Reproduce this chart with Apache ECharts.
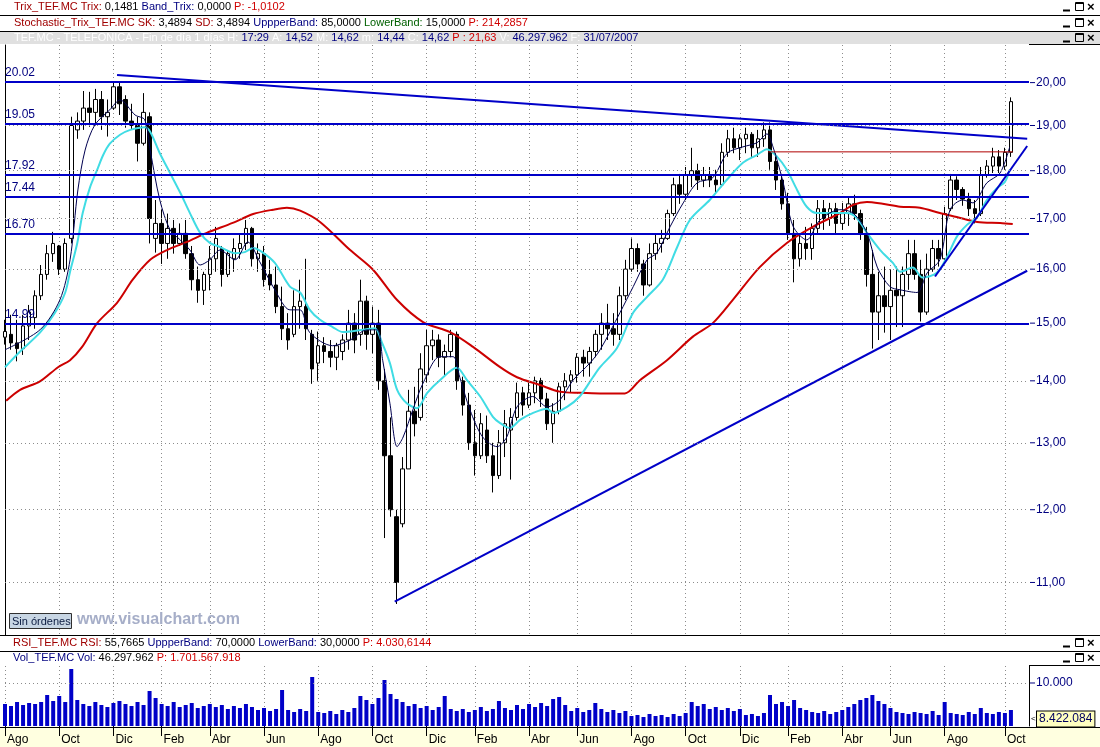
<!DOCTYPE html>
<html>
<head>
<meta charset="utf-8">
<script src="https://cdn.jsdelivr.net/npm/echarts@6/dist/echarts.min.js"></script>
<style>
html,body{margin:0;padding:0;background:#fff;}
#c{width:1100px;height:747px;}
</style>
</head>
<body>
<div id="c"></div>
<script>
// ---------- DATA (weekly candles) ----------
const openP = [
14.75,14.8,14.65,14.55,14.95,15.1,15.5,15.9,16.3,16.45,
16.0,16.6,18.9,19.1,19.4,19.3,19.6,19.2,19.4,19.9,
19.6,19.1,19.0,18.6,19.2,16.6,16.9,16.5,16.8,16.5,
16.7,16.3,15.8,15.6,15.9,16.2,16.4,15.9,16.2,16.4,
16.5,16.8,16.2,16.3,15.9,15.7,15.3,14.9,14.8,15.3,
15.3,14.8,14.3,14.6,14.5,14.4,14.5,14.7,15.0,14.8,
15.4,14.8,15.0,14.0,12.8,11.9,11.8,12.6,13.5,13.4,
14.1,14.6,14.7,14.4,14.5,14.8,14.0,13.6,13.0,12.8,
13.2,12.8,12.5,13.0,13.2,13.4,13.8,13.6,13.8,14.0,
13.7,13.3,13.5,13.9,14.0,14.1,14.4,14.3,14.5,14.8,
15.0,14.9,14.8,15.5,16.0,16.4,16.1,15.7,16.3,16.5,
16.6,17.1,17.7,17.5,17.9,18.0,17.8,17.9,17.8,17.7,
18.4,18.7,18.5,18.7,18.8,18.5,18.7,18.9,18.2,17.8,
17.3,16.7,16.2,16.5,16.4,16.8,17.2,17.0,17.2,16.9,
17.1,17.3,17.1,16.7,15.9,15.2,15.5,15.3,15.6,15.5,
15.9,16.3,15.9,15.2,16.0,16.4,16.2,17.2,17.8,17.6,
17.4,17.2,17.1,17.9,18.1,18.3,18.1,18.4];
const closeP = [
14.85,14.65,14.55,14.95,15.2,15.5,15.9,16.3,16.5,16.0,
16.5,19.0,19.1,19.4,19.3,19.6,19.2,19.3,19.9,19.5,
19.1,19.0,18.6,19.3,17.0,16.9,16.5,16.8,16.5,16.7,
16.3,15.8,15.6,15.9,16.2,16.6,15.9,16.3,16.4,16.5,
16.8,16.2,16.3,15.8,15.7,15.3,14.9,14.7,15.3,15.4,
14.9,14.2,14.6,14.5,14.4,14.6,14.7,15.0,14.7,15.4,
14.8,15.0,14.0,12.8,12.0,11.0,12.6,13.5,13.3,14.2,
14.6,14.7,14.4,14.5,14.8,14.0,13.6,13.0,12.8,13.3,
12.8,12.5,13.0,13.3,13.4,13.8,13.6,13.8,14.0,13.7,
13.3,13.5,13.9,14.0,14.1,14.4,14.3,14.5,14.8,15.0,
14.9,14.8,15.5,16.0,16.4,16.1,15.7,16.3,16.5,16.6,
17.1,17.7,17.5,17.9,18.0,17.8,17.9,17.8,17.7,18.4,
18.7,18.5,18.7,18.8,18.5,18.7,18.9,18.2,17.8,17.3,
16.7,16.2,16.5,16.4,16.8,17.2,17.0,17.2,16.9,17.1,
17.3,17.1,16.7,15.9,15.2,15.5,15.3,15.6,15.5,15.9,
16.3,15.9,15.2,16.0,16.4,16.2,17.1,17.8,17.6,17.4,
17.2,17.1,17.9,18.1,18.3,18.1,18.4,19.55];
const lowP = [
14.62,14.53,14.33,14.44,14.7,14.9,15.42,15.8,16.14,15.89,
15.95,16.5,18.7,18.9,18.97,19.0,18.9,18.75,19.36,19.24,
18.95,18.9,18.2,18.55,16.5,16.32,16.1,16.2,16.3,16.45,
16.2,15.6,15.37,15.33,15.6,15.95,15.67,15.85,15.95,16.2,
16.37,16.05,15.95,15.67,15.6,15.18,14.7,14.53,14.75,14.9,
14.7,13.95,14.0,14.3,14.23,14.18,14.35,14.53,14.47,14.6,
14.53,14.47,13.85,11.6,11.9,10.72,11.75,12.6,13.1,13.35,
13.97,14.35,14.23,14.07,14.4,13.85,13.43,12.89,12.5,12.75,
12.69,12.25,12.45,12.78,12.44,13.35,13.43,13.55,13.63,13.57,
13.2,13.0,13.45,13.68,13.8,13.97,14.07,14.07,14.4,14.53,
14.7,14.6,14.7,15.42,15.95,15.95,15.5,15.67,16.18,16.32,
16.57,17.05,17.3,17.38,17.65,17.59,17.65,17.65,17.53,17.65,
18.3,18.38,18.23,18.38,18.3,18.3,18.52,18.02,17.59,17.18,
16.57,15.75,16.05,16.18,16.18,16.7,16.77,16.85,16.7,16.77,
16.85,16.97,16.57,15.67,14.55,14.7,14.83,14.7,14.93,14.93,
15.61,15.8,15.03,15.15,15.95,16.05,16.12,17.15,17.38,17.26,
17.05,16.9,17.05,17.85,17.95,17.95,18.02,18.3];
const highP = [
15.06,15.15,15.06,15.15,15.33,15.6,16.08,16.47,16.73,16.47,
16.6,19.2,19.3,19.8,19.78,19.85,19.8,19.6,20.0,20.02,
19.7,19.5,19.2,19.75,19.3,17.38,17.18,17.1,16.97,16.9,
16.97,16.45,16.05,15.95,16.45,16.83,16.45,16.37,16.6,16.7,
16.97,16.83,16.5,16.45,16.18,16.05,15.67,15.18,15.6,15.8,
16.2,14.88,14.85,14.75,14.7,14.65,14.8,15.24,15.18,15.8,
15.5,15.3,15.24,14.2,13.4,12.0,12.78,13.85,13.9,14.47,
14.88,14.88,14.8,14.62,14.88,14.85,14.07,13.8,13.52,13.47,
13.43,13.0,13.2,13.52,13.55,13.97,13.9,13.97,14.07,14.05,
13.8,13.63,13.97,14.13,14.18,14.47,14.53,14.58,14.88,15.18,
15.35,15.18,15.67,16.18,16.6,16.5,16.18,16.5,16.7,16.77,
17.18,17.85,17.93,18.08,18.5,18.15,18.08,18.08,18.02,18.6,
18.9,18.95,18.8,18.95,18.85,18.9,19.07,19.07,18.38,17.93,
17.53,16.97,16.7,16.83,16.9,17.38,17.38,17.32,17.32,17.32,
17.44,17.49,17.18,16.83,16.37,15.95,16.05,15.99,16.05,16.05,
16.57,16.57,16.18,16.3,16.57,16.57,17.24,17.93,17.88,17.65,
17.53,17.38,18.08,18.23,18.5,18.45,18.5,19.65];
// weekly volume (thousands)
const volume = [
5120,4650,5580,4880,5350,5120,5580,7210,5810,6980,
5580,13250,6050,5120,4650,5580,4880,4420,5350,5810,
5120,4650,5580,4880,8140,6510,5120,4650,5580,4420,
4880,5350,4190,4650,5120,4420,4880,3950,4650,4190,
5120,4420,3720,4190,3490,3950,8370,3720,3260,3950,
3490,11390,3260,3020,3490,2790,3720,3260,4190,6980,
6050,5120,6510,10700,7440,6280,5580,4650,5120,4190,
4650,3720,4420,6980,3950,3490,3950,3260,3720,4420,
3490,3950,5810,4190,3720,4880,3950,5120,4420,5350,
4650,6280,6740,4880,3490,4190,3260,3720,5350,3950,
3260,3720,3020,3490,2330,2560,2090,2790,2330,2560,
2090,2790,2330,3020,5580,4650,5120,3950,4420,3720,
4190,3490,3950,2560,2790,2330,3020,7210,5120,5580,
4650,6050,4190,3720,3260,3020,3490,2790,3260,3720,
4420,5120,6050,6510,7210,5810,5120,4190,3260,3020,
2790,3260,3020,2790,3490,2560,5580,3020,2790,2560,
3260,2790,4190,3020,2790,3260,3020,3720];
// moving averages [week, price]
const maSlow = [[0.2,13.67],[2.5,13.85],[5.8,13.99],[8.8,14.23],[10.8,14.35],[12.8,14.58],[15.3,15.0],[18.6,15.37],[21.2,15.8],[24.1,16.18],[26.9,16.37],[30.2,16.53],[33.5,16.71],[37.8,16.91],[41.2,17.09],[44.5,17.18],[46.8,17.22],[49.0,17.16],[52.3,16.93],[57.3,16.37],[61.1,15.99],[65.1,15.42],[69.4,15.02],[73.9,14.84],[77.7,14.58],[82.2,14.23],[85.0,14.06],[88.8,13.93],[92.1,13.82],[95.5,13.8],[98.8,13.79],[102.9,13.79],[105.4,14.01],[109.9,14.35],[114.2,14.76],[117.5,15.0],[120.8,15.42],[125.3,16.04],[129.8,16.51],[134.1,16.83],[138.6,17.11],[140.8,17.28],[143.1,17.34],[145.7,17.3],[148.6,17.24],[151.9,17.22],[155.2,17.11],[158.0,17.03],[161.4,16.93],[165.2,16.91],[167.3,16.89]];
const maMid = [[0,14.23],[2.5,14.5],[5.8,14.83],[8.3,15.19],[10.0,15.56],[10.8,15.95],[12.0,16.51],[12.9,17.11],[14.1,17.64],[15.3,18.02],[16.3,18.34],[17.4,18.59],[19.1,18.79],[20.8,18.9],[23.2,18.96],[24.1,18.86],[25.7,18.38],[27.4,17.95],[29.1,17.53],[30.7,17.11],[32.4,16.71],[34.0,16.51],[35.7,16.43],[38.2,16.31],[39.8,16.33],[41.2,16.41],[42.7,16.33],[44.8,16.12],[47.3,15.67],[49.0,15.56],[50.6,15.24],[52.3,15.06],[54.4,14.93],[56.1,14.84],[59.4,14.88],[61.4,14.91],[62.6,14.65],[63.9,14.3],[65.1,13.85],[66.7,13.63],[68.4,13.55],[70.1,13.8],[72.2,14.01],[75.0,14.22],[76.7,14.01],[78.9,13.74],[81.0,13.41],[82.2,13.31],[83.8,13.23],[85.5,13.36],[87.6,13.47],[90.0,13.54],[91.0,13.47],[93.3,13.57],[95.4,13.74],[97.6,14.06],[98.8,14.23],[101.6,14.56],[104.3,15.19],[106.6,15.48],[109.2,15.8],[111.6,16.43],[113.7,16.97],[117.0,17.38],[119.8,17.8],[122.5,18.17],[124.8,18.34],[126.5,18.47],[128.2,18.3],[129.8,18.02],[131.5,17.59],[133.1,17.24],[134.8,17.11],[137.5,17.11],[139.8,17.11],[141.4,17.01],[143.1,16.71],[145.3,16.37],[147.4,16.12],[148.6,15.95],[150.7,16.03],[152.3,15.84],[154.7,15.93],[156.4,16.24],[158.0,16.63],[159.7,16.87],[161.4,17.03],[163.0,17.38],[164.7,17.63],[166.0,17.76],[166.8,18.02]];
const maFast = [[0,14.53],[5.8,14.88],[9.1,15.42],[10.8,16.18],[12.1,17.59],[13.3,18.45],[14.9,19.01],[17.4,19.36],[19.1,19.59],[21.6,19.24],[23.2,19.13],[24.1,18.45],[25.7,17.38],[27.4,16.77],[29.1,16.57],[30.7,16.37],[32.4,16.08],[34.0,16.18],[35.7,16.37],[38.2,16.18],[40.3,16.53],[42.3,16.14],[44.8,15.61],[47.3,15.24],[49.0,15.24],[50.6,14.83],[54.4,14.6],[57.3,14.7],[60.1,14.88],[61.8,14.88],[62.7,14.35],[63.9,13.63],[65.1,12.94],[66.1,13.09],[67.7,13.52],[69.4,13.96],[72.2,14.41],[74.4,14.41],[75.5,14.06],[77.2,13.52],[79.3,13.09],[81.7,12.94],[83.3,13.09],[85.0,13.57],[87.6,13.74],[90.0,13.57],[92.1,13.68],[94.3,14.01],[97.1,14.3],[98.8,14.53],[102.1,15.19],[104.3,15.67],[106.6,16.18],[108.2,16.31],[110.4,16.83],[112.6,17.32],[114.9,17.74],[117.5,17.85],[119.9,18.38],[122.5,18.52],[124.8,18.61],[126.5,18.81],[127.5,18.52],[129.2,17.74],[130.8,16.85],[133.1,16.57],[135.3,16.97],[138.6,17.18],[140.8,17.11],[143.1,16.71],[144.8,16.04],[146.9,15.67],[148.6,15.61],[151.4,15.56],[153.1,15.93],[155.2,16.18],[156.9,17.18],[159.0,17.38],[160.7,17.32],[163.0,17.74],[165.2,17.95],[166.8,18.52]];
// drawn lines
const levelValues = [20.02, 19.05, 17.92, 17.44, 16.70, 14.99];
const levelLabels = ['20.02','19.05','17.92','17.44','16.70','14.99'];
const trendDown = [[18.6,20.185],[169.7,18.70]];
const trendUp = [[64.7,10.75],[169.7,15.97]];
const trendShort = [[154.4,15.86],[169.7,18.54]];
const redLevel = [[126.7,18.41],[167.3,18.41]];
// axes
const priceTicks = [11,12,13,14,15,16,17,18,19,20];
const priceTickLabels = ['11,00','12,00','13,00','14,00','15,00','16,00','17,00','18,00','19,00','20,00'];
const monthTickWeeks = [0,9,18,26,34,43,52,61,70,78,87,95,104,113,122,130,139,147,156,166];
const monthNames = ['Ago','Oct','Dic','Feb','Abr','Jun','Ago','Oct','Dic','Feb','Abr','Jun','Ago','Oct','Dic','Feb','Abr','Jun','Ago','Oct'];
const volTick = 10000, volTickLabel = '10.000';
const lastVolLabel = '8.422.084';
const weekCount = 171;

// ---------- CHART ----------
const FONT = '"Liberation Sans", Arial, sans-serif';
const cats = Array.from({length: weekCount}, (_, i) => String(i));
const tickSet = new Set(monthTickWeeks);
const isTick = (i) => tickSet.has(i);
const candles = openP.map((o, i) => [o, closeP[i], lowP[i], highP[i]]);
const lastClose = closeP[closeP.length - 1];

const rowRich = {
  dr: {fill: '#a00000'}, r: {fill: '#d00000'}, k: {fill: '#000000'},
  b: {fill: '#000080'}, g: {fill: '#006000'}, w: {fill: '#ffffff'}
};
function row(parts) { return parts.map(p => '{' + p[1] + '|' + p[0] + '}').join(''); }
function headerText(x, y, parts) {
  return {type: 'text', x: x, y: y, z: 10,
    style: {text: row(parts), rich: rowRich, font: '11px ' + FONT, verticalAlign: 'middle', fill: '#000'}};
}
function buttons(yc) {
  return [
    {type: 'line', z: 10, shape: {x1: 1063, y1: yc + 3.5, x2: 1070, y2: yc + 3.5}, style: {stroke: '#000', lineWidth: 2}},
    {type: 'rect', z: 10, shape: {x: 1075.5, y: yc - 4.5, width: 8, height: 8}, style: {fill: 'none', stroke: '#000', lineWidth: 1}},
    {type: 'line', z: 10, shape: {x1: 1075.5, y1: yc - 3.5, x2: 1083.5, y2: yc - 3.5}, style: {stroke: '#000', lineWidth: 1}},
    {type: 'text', z: 10, x: 1087, y: yc, style: {text: '×', font: 'bold 13px ' + FONT, fill: '#000', verticalAlign: 'middle'}}
  ];
}
function hline(y, x1, x2, c) {
  return {type: 'line', z: 10, shape: {x1: x1, y1: y, x2: x2, y2: y}, style: {stroke: c || '#000', lineWidth: 1}};
}

const graphics = [
  {type: 'rect', z: -1, shape: {x: 0, y: 32, width: 1100, height: 12}, style: {fill: '#e0e0e0'}},
  {type: 'rect', z: -1, shape: {x: 0, y: 728, width: 1100, height: 19}, style: {fill: '#ffffe0'}},
  hline(15.5, 0, 1100), hline(31.5, 0, 1100), hline(44.5, 1029, 1100),
  hline(635.5, 0, 1100), hline(651.5, 0, 1100), hline(665.5, 1029, 1100), hline(727.5, 0, 1100),
  headerText(14, 7, [['Trix_TEF.MC','dr'],[' Trix: ','dr'],['0,1481','k'],[' Band_Trix: ','b'],['0,0000','k'],[' P: -1,0102','r']]),
  headerText(14, 23, [['Stochastic_Trix_TEF.MC','dr'],[' SK: ','dr'],['3,4894','k'],[' SD: ','dr'],['3,4894','k'],[' UppperBand: ','b'],['85,0000','k'],[' LowerBand: ','g'],['15,0000','k'],[' P: 214,2857','r']]),
  headerText(14, 38, [['TEF.MC - TELEFONICA - Fin de día 1 días H: ','w'],['17:29','b'],[' A: ','w'],['14,52','b'],[' M: ','w'],['14,62','b'],[' m: ','w'],['14,44','b'],[' C: ','w'],['14,62','b'],[' P : 21,63','r'],[' V: ','w'],['46.297.962','b'],[' F: ','w'],['31/07/2007','b']]),
  headerText(13, 643, [['RSI_TEF.MC','dr'],[' RSI: ','dr'],['55,7665','k'],[' UppperBand: ','b'],['70,0000','k'],[' LowerBand: ','b'],['30,0000','k'],[' P: 4.030,6144','r']]),
  headerText(13, 658, [['Vol_TEF.MC','b'],[' Vol: ','b'],['46.297.962','k'],[' P: 1.701.567.918','r']]),
  ...buttons(7), ...buttons(23), ...buttons(38), ...buttons(643), ...buttons(658),
  {type: 'rect', z: 10, shape: {x: 9.5, y: 613.5, width: 62, height: 15}, style: {fill: '#c8d6e4', stroke: '#303030', lineWidth: 1}},
  {type: 'text', z: 11, x: 12, y: 621.5, style: {text: 'Sin órdenes', font: '11px ' + FONT, fill: '#0a1a40', verticalAlign: 'middle'}},
  {type: 'text', z: 10, x: 77, y: 620, style: {text: 'www.visualchart.com', font: 'bold 16px ' + FONT, fill: '#a6aec8', verticalAlign: 'middle'}},
  {type: 'text', z: 10, x: 1031, y: 719, style: {text: '<', font: '8px ' + FONT, fill: '#000', verticalAlign: 'middle'}},
  {type: 'text', z: 10, x: 1037, y: 719, style: {text: lastVolLabel, font: '12px ' + FONT, fill: '#000060', verticalAlign: 'middle',
    backgroundColor: '#ffffc0', borderColor: '#000', borderWidth: 1, padding: [2, 2, 1, 2]}}
];

const dotted = {color: '#8c8c8c', type: [1, 3], width: 1};

const option = {
  animation: false,
  backgroundColor: '#ffffff',
  textStyle: {fontFamily: FONT},
  grid: [
    {left: 5, right: 71, top: 45, height: 590},
    {left: 5, right: 71, top: 666, height: 60}
  ],
  xAxis: [
    {gridIndex: 0, type: 'value', min: 0, max: weekCount - 1, show: false},
    {gridIndex: 0, type: 'category', data: cats, boundaryGap: false,
      axisLine: {show: false}, axisTick: {show: false}, axisLabel: {show: false},
      splitLine: {show: true, interval: isTick, lineStyle: dotted}},
    {gridIndex: 1, type: 'category', data: cats, boundaryGap: false, position: 'bottom',
      axisLine: {show: false},
      axisTick: {show: true, interval: isTick, length: 10, lineStyle: {color: '#000', width: 1}},
      axisLabel: {show: true, interval: isTick, align: 'left', margin: 8, padding: [0, 0, 0, 2],
        color: '#000', fontSize: 12, fontFamily: FONT,
        formatter: (v, i) => monthNames[monthTickWeeks.indexOf(i)] || ''},
      splitLine: {show: true, interval: isTick, lineStyle: dotted}}
  ],
  yAxis: [
    {gridIndex: 0, type: 'log', logBase: 10, min: 10.33, max: 20.92, position: 'right',
      axisLine: {show: true, lineStyle: {color: '#000'}}, axisTick: {show: false},
      axisLabel: {show: false}, splitLine: {show: false}},
    {gridIndex: 1, type: 'value', min: 0, max: 13950, position: 'right',
      axisLine: {show: true, lineStyle: {color: '#000'}}, axisTick: {show: false},
      axisLabel: {show: false}, splitLine: {show: false}}
  ],
  graphic: {elements: graphics},
  series: [
    {name: 'priceGrid', type: 'line', xAxisIndex: 0, yAxisIndex: 0, data: [], z: 1,
      markLine: {silent: true, symbol: 'none', animation: false, lineStyle: dotted,
        label: {show: true, position: 'end', distance: 1,
          formatter: p => '{t|}{v|' + p.name + '}',
          rich: {t: {width: 5, height: 1, backgroundColor: '#000080'},
                 v: {color: '#000080', fontSize: 12, fontFamily: FONT, padding: [0, 0, 0, 1]}}},
        data: priceTicks.map((v, i) => ({yAxis: v, name: priceTickLabels[i]}))}},
    {name: 'TEF', type: 'candlestick', xAxisIndex: 1, yAxisIndex: 0, data: candles, barWidth: 4, z: 2,
      itemStyle: {color: '#ffffff', color0: '#000000', borderColor: '#000000', borderColor0: '#000000', borderWidth: 1}},
    {name: 'maSlow', type: 'line', xAxisIndex: 0, yAxisIndex: 0, data: maSlow, smooth: 0.3, showSymbol: false, z: 3,
      lineStyle: {color: '#cc0000', width: 2}},
    {name: 'maMid', type: 'line', xAxisIndex: 0, yAxisIndex: 0, data: maMid, smooth: 0.3, showSymbol: false, z: 3,
      lineStyle: {color: '#40dce4', width: 2}},
    {name: 'maFast', type: 'line', xAxisIndex: 0, yAxisIndex: 0, data: maFast, smooth: 0.3, showSymbol: false, z: 3,
      lineStyle: {color: '#000050', width: 1}},
    {name: 'levels', type: 'line', xAxisIndex: 0, yAxisIndex: 0, data: [], z: 4,
      markLine: {silent: true, symbol: 'none', animation: false,
        lineStyle: {color: '#0000c8', type: 'solid', width: 2},
        label: {show: true, position: 'insideStartTop', distance: [0, 3], color: '#000080', fontSize: 12, fontFamily: FONT,
          formatter: p => p.name},
        data: levelValues.map((v, i) => ({yAxis: v, name: levelLabels[i]}))}},
    {name: 'trendDown', type: 'line', xAxisIndex: 0, yAxisIndex: 0, data: trendDown, showSymbol: false, z: 4,
      lineStyle: {color: '#0000c8', width: 2}},
    {name: 'trendUp', type: 'line', xAxisIndex: 0, yAxisIndex: 0, data: trendUp, showSymbol: false, z: 4,
      lineStyle: {color: '#0000c8', width: 2}},
    {name: 'trendShort', type: 'line', xAxisIndex: 0, yAxisIndex: 0, data: trendShort, showSymbol: false, z: 4,
      lineStyle: {color: '#0000c8', width: 2}},
    {name: 'redLevel', type: 'line', xAxisIndex: 0, yAxisIndex: 0, data: redLevel, showSymbol: false, z: 4,
      lineStyle: {color: '#b00000', width: 1}},
    {name: 'lastPrice', type: 'line', xAxisIndex: 0, yAxisIndex: 0, data: [], z: 5,
      markLine: {silent: true, symbol: 'none', animation: false, lineStyle: {opacity: 0},
        label: {show: true, position: 'end', distance: 1,
          formatter: '{a|<}{b|' + lastClose.toFixed(2).replace('.', ',') + '}',
          rich: {a: {color: '#000', fontSize: 8, padding: [0, 2, 0, 0]},
                 b: {color: '#000060', fontSize: 12, fontFamily: FONT, backgroundColor: '#ffffc0',
                     borderColor: '#000', borderWidth: 1, padding: [2, 2, 1, 2]}}},
        data: [{yAxis: lastClose}]}},
    {name: 'Vol', type: 'bar', xAxisIndex: 2, yAxisIndex: 1, data: volume, barWidth: 4,
      itemStyle: {color: '#0000c8'},
      markLine: {silent: true, symbol: 'none', animation: false, lineStyle: dotted,
        label: {show: true, position: 'end', distance: 1,
          formatter: '{t|}{v|' + volTickLabel + '}',
          rich: {t: {width: 5, height: 1, backgroundColor: '#000080'},
                 v: {color: '#000080', fontSize: 12, fontFamily: FONT, padding: [0, 0, 0, 1]}}},
        data: [{yAxis: volTick}]}}
  ]
};
const chart = echarts.init(document.getElementById('c'), null, {renderer: 'canvas'});
chart.setOption(option);
</script>
</body>
</html>
